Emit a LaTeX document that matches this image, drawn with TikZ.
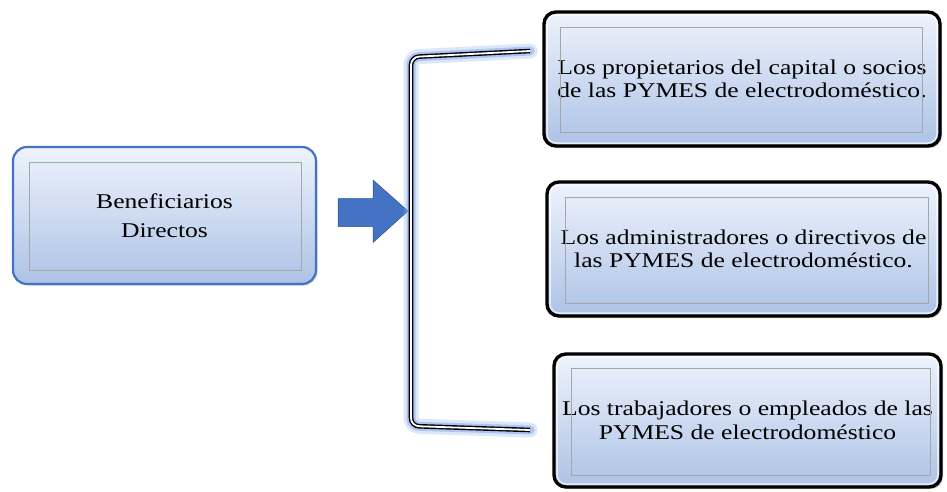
\documentclass[tikz,border=0pt]{standalone}
\usepackage{fontspec}
\setmainfont{Liberation Serif}
\newfontfamily\boxfont[FakeStretch=1.22]{Liberation Serif}
\usetikzlibrary{shadows}
\definecolor{c4472C4}{RGB}{68,114,196}
\definecolor{c2F528F}{RGB}{47,82,143}
\definecolor{cEEF3FC}{RGB}{238,243,252}
\definecolor{cADC2E6}{RGB}{173,194,230}
\definecolor{c9EB7E8}{RGB}{140,175,238}
\definecolor{cA6A6A6}{RGB}{166,166,166}
\tikzset{
  benbox/.style={rounded corners=14pt, top color=cEEF3FC, bottom color=cADC2E6,
    draw=c4472C4, line width=2.2pt, inner sep=0pt, align=center,
    drop shadow={shadow xshift=1.5pt, shadow yshift=-1.5pt, opacity=0.35},
    font=\boxfont\fontsize{21}{28.5}\selectfont},
  grpbox/.style={rounded corners=12pt, top color=cEEF3FC, bottom color=cADC2E6,
    draw=black, line width=3.4pt, inner sep=0pt, align=center,
    drop shadow={shadow xshift=2pt, shadow yshift=-2pt, opacity=0.45},
    font=\boxfont\fontsize{21}{23.5}\selectfont},
  frame/.style={draw=cA6A6A6, line width=0.7pt},
  bevel/.style={draw=white, line width=1.5pt, opacity=0.7, rounded corners=9pt},
  glow/.style={draw=c9EB7E8, line width=15pt, opacity=0.3, line cap=round,
    line join=round, rounded corners=8pt},
  glowin/.style={draw=c9EB7E8, line width=9pt, opacity=0.6, line cap=round,
    line join=round, rounded corners=8pt},
  bracket/.style={draw=black, double=white, line width=1.4pt, double distance=1.8pt,
    rounded corners=8pt},
}
\begin{document}
\begin{tikzpicture}[x=1pt,y=1pt,yscale=-1]
  \useasboundingbox (0,0) rectangle (947,491);
  % left box
  \node[benbox, minimum width=303pt, minimum height=137pt] (ben) at (164.5,215.5)
    {Beneficiarios\\Directos};
  \path[frame] (29,162) rectangle (301,270);
  % block arrow
  \path[fill=c4472C4, draw=c2F528F, line width=0.5pt] (338,198.5) -- (373,198.5) --
    (373,180) -- (408,211) -- (373,242.5) -- (373,226.5) -- (338,226.5) -- cycle;
  % right boxes
  \node[grpbox, minimum width=396pt, minimum height=134pt] (own) at (742,79)
    {Los propietarios del capital o socios\\de las PYMES de electrodoméstico.};
  \path[bevel] (547,15) rectangle (937,143);
  \path[frame] (560,27) rectangle (922,132);
  \node[grpbox, minimum width=393pt, minimum height=134pt] (adm) at (743.5,249)
    {Los administradores o directivos de\\las PYMES de electrodoméstico.};
  \path[bevel] (550,185) rectangle (937,313);
  \path[frame] (565,197) rectangle (928,303);
  \node[grpbox, minimum width=387pt, minimum height=133pt] (emp) at (747.5,420.5)
    {Los trabajadores o empleados de las\\PYMES de electrodoméstico};
  \path[bevel] (557,357) rectangle (938,484);
  \path[frame] (571,368) rectangle (930,475);
  % bracket
  \coordinate (btop) at (530,51);
  \coordinate (bbot) at (530,430);
  \draw[glow] (btop) -- (411,57) -- (411,426) -- (bbot);
  \draw[glowin] (btop) -- (411,57) -- (411,426) -- (bbot);
  \draw[bracket] (btop) -- (411,57) -- (411,426) -- (bbot);
\end{tikzpicture}
\end{document}
